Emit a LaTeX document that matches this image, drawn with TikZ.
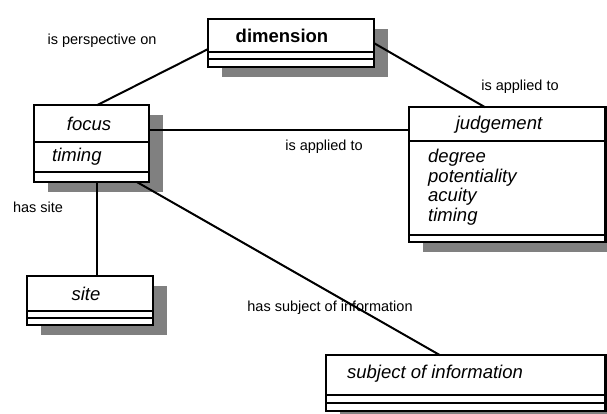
\documentclass[tikz,border=0pt]{standalone}
\usepackage{fontspec}
\setmainfont{Liberation Sans}
\usetikzlibrary{shadows, calc}

\tikzset{
  classbox/.style={draw, line width=2.4pt, fill=white, inner sep=0pt, outer sep=0pt,
    drop shadow={shadow xshift=14pt, shadow yshift=-10pt, fill=black!50, opacity=1}},
  sepline/.style={line width=2.4pt},
  title/.style={font=\fontsize{18.5}{22}\selectfont\itshape, inner sep=0pt},
  attr/.style={title, anchor=west},
  rel/.style={line width=2pt},
  rellabel/.style={font=\fontsize{14.5}{17}\selectfont, inner sep=0pt}
}

\begin{document}
\begin{tikzpicture}[x=1pt, y=-1pt]
\useasboundingbox (0,0) rectangle (607,414);

% Class boxes
\node[classbox, minimum width=165.6pt, minimum height=47.6pt] (dimension) at (291,43) {};
\node[classbox, minimum width=114.6pt, minimum height=76.6pt] (focus) at (91.5,143.5) {};
\node[classbox, minimum width=125.6pt, minimum height=48.6pt] (site) at (90,300.5) {};
\node[classbox, minimum width=196.4pt, minimum height=134.6pt] (judgement) at (507.4,174.5) {};
\node[classbox, minimum width=279.4pt, minimum height=55.6pt] (subject) at (465.9,383) {};

% Compartment lines
\foreach \b/\y in {dimension/52, dimension/59, focus/142, focus/172, site/311, site/318,
                   judgement/141, judgement/235, subject/395, subject/403}
  \draw[sepline] (\b.west |- 0,\y) -- (\b.east |- 0,\y);

% Class names and attributes
\node[title, font=\fontsize{18.5}{22}\selectfont\bfseries] (dimname) at (282,36) {dimension};
\node[title] (focusname) at (89,124) {focus};
\node[attr] (focustiming) at (52,157) {timing};
\node[title] (sitename) at (86,294) {site};
\node[title] (judgename) at (499,125) {judgement};
\foreach \a [count=\i] in {degree, potentiality, acuity, timing}
  \node[attr] (judge\i) at (428, 138+19.7*\i) {\a};
\node[title] (subjectname) at (435,374) {subject of information};

% Associations
\coordinate (fj) at ([yshift=13.5pt]focus.east);
\coordinate (fs) at ([xshift=5.5pt]focus.south);
\draw[rel] ([yshift=-6pt]dimension.west) -- ([xshift=5.5pt]focus.north);
\draw[rel] (dimension.east) -- ([xshift=-22.4pt]judgement.north);
\draw[rel] (fj) -- (fj -| judgement.west);
\draw[rel] (fs) -- (fs |- site.north);
\draw[rel] ([xshift=45pt]focus.south) -- ([xshift=-25.9pt]subject.north);

% Association labels
\node[rellabel] (perspective) at (102,41) {is perspective on};
\node[rellabel] (appliedtop) at (520,87) {is applied to};
\node[rellabel] (appliedmid) at (324,147) {is applied to};
\node[rellabel] (hassite) at (38,207) {has site};
\node[rellabel] (hassubject) at (330,308) {has subject of information};
\end{tikzpicture}
\end{document}
